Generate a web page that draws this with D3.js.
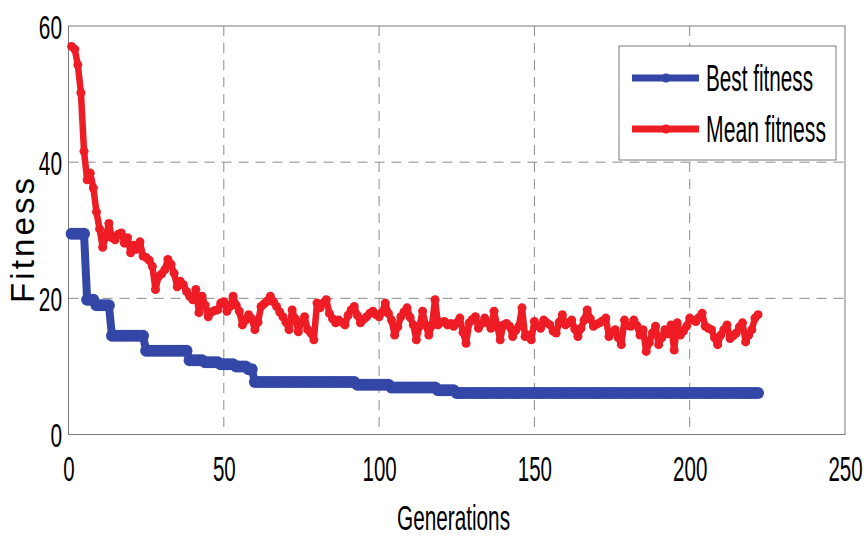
<!DOCTYPE html>
<html>
<head>
    <meta charset="utf-8">
    <script src="https://d3js.org/d3.v7.min.js"></script>
    <style>
        body { margin: 0; background: #fff; }
        text { font-family: "Liberation Sans Narrow", "Arial Narrow", "Liberation Sans", sans-serif; fill: #000; }
    </style>
</head>
<body>
    <div id="chart"></div>

    <script>
        // data: generation 1..222
        const bestFitness = [
            29.5, 29.5, 29.5, 29.5, 29.5,
            19.8, 19.8, 19.8,
            19.0, 19.0, 19.0, 19.0, 19.0,
            14.5, 14.5, 14.5, 14.5, 14.5, 14.5, 14.5, 14.5, 14.5, 14.5, 14.5,
            12.3, 12.3, 12.3, 12.3, 12.3, 12.3, 12.3, 12.3, 12.3, 12.3, 12.3, 12.3, 12.3, 12.3,
            10.9, 10.9, 10.9, 10.9, 10.9,
            10.6, 10.6, 10.6, 10.6, 10.6,
            10.3, 10.3, 10.3, 10.3, 10.3,
            10.0, 10.0, 10.0, 10.0,
            9.6, 9.6,
            7.7, 7.7, 7.7, 7.7, 7.7, 7.7, 7.7, 7.7, 7.7, 7.7, 7.7, 7.7, 7.7, 7.7, 7.7, 7.7, 7.7,
            7.7, 7.7, 7.7, 7.7, 7.7, 7.7, 7.7, 7.7, 7.7, 7.7, 7.7, 7.7, 7.7, 7.7, 7.7, 7.7,
            7.3, 7.3, 7.3, 7.3, 7.3, 7.3, 7.3, 7.3, 7.3, 7.3, 7.3,
            6.9, 6.9, 6.9, 6.9, 6.9, 6.9, 6.9, 6.9, 6.9, 6.9, 6.9, 6.9, 6.9, 6.9, 6.9,
            6.5, 6.5, 6.5, 6.5, 6.5, 6.5,
            6.1, 6.1, 6.1, 6.1, 6.1, 6.1, 6.1, 6.1, 6.1, 6.1, 6.1, 6.1, 6.1, 6.1, 6.1, 6.1, 6.1, 6.1, 6.1, 6.1,
            6.1, 6.1, 6.1, 6.1, 6.1, 6.1, 6.1, 6.1, 6.1, 6.1, 6.1, 6.1, 6.1, 6.1, 6.1, 6.1, 6.1, 6.1, 6.1, 6.1,
            6.1, 6.1, 6.1, 6.1, 6.1, 6.1, 6.1, 6.1, 6.1, 6.1, 6.1, 6.1, 6.1, 6.1, 6.1, 6.1, 6.1, 6.1, 6.1, 6.1,
            6.1, 6.1, 6.1, 6.1, 6.1, 6.1, 6.1, 6.1, 6.1, 6.1, 6.1, 6.1, 6.1, 6.1, 6.1, 6.1, 6.1, 6.1, 6.1, 6.1,
            6.1, 6.1, 6.1, 6.1, 6.1, 6.1, 6.1, 6.1, 6.1, 6.1, 6.1, 6.1, 6.1, 6.1, 6.1, 6.1, 6.1, 6.1
        ];

        const meanFitness = [
            57.0, 56.6, 54.3, 50.2, 41.6, 37.4, 38.4, 36.2, 32.7, 30.2,
            27.5, 29.0, 31.0, 28.9, 28.6, 29.4, 29.6, 28.1, 28.9, 26.7,
            27.8, 27.2, 28.3, 26.2, 26.0, 25.6, 24.7, 21.3, 23.2, 23.6,
            24.2, 25.7, 25.0, 23.7, 21.7, 22.5, 22.0, 21.0, 20.3, 19.8,
            21.3, 17.9, 20.3, 19.0, 17.3, 18.0, 18.2, 18.3, 19.3, 19.5,
            18.1, 18.8, 20.3, 19.0, 18.1, 16.1, 16.8, 17.6, 17.0, 15.4,
            16.5, 18.8, 19.2, 19.6, 20.3, 19.5, 18.8, 18.0, 17.3, 16.5,
            15.4, 18.3, 17.0, 15.1, 16.5, 17.3, 15.4, 14.9, 13.9, 19.3,
            18.6, 19.3, 19.8, 17.8, 17.0, 16.4, 16.8, 16.5, 16.1, 17.5,
            18.3, 18.8, 17.5, 16.4, 16.9, 17.3, 17.8, 18.1, 17.6, 17.3,
            18.0, 19.3, 17.8, 16.8, 14.6, 15.8, 17.3, 18.0, 18.6, 17.2,
            16.1, 13.9, 15.9, 18.1, 16.1, 14.6, 16.0, 19.8, 16.1, 16.5,
            16.6, 16.1, 16.3, 15.9, 16.4, 17.1, 15.0, 13.4, 16.4, 16.9,
            17.3, 15.6, 16.3, 17.1, 16.4, 15.6, 18.1, 16.0, 13.9, 16.1,
            16.3, 15.9, 14.4, 15.3, 15.9, 18.6, 14.4, 14.6, 13.9, 16.6,
            16.0, 15.6, 16.8, 16.4, 16.1, 15.2, 14.9, 16.5, 17.6, 16.1,
            16.4, 16.8, 15.5, 14.4, 15.6, 16.8, 18.3, 17.0, 15.9, 16.2,
            16.4, 16.7, 17.1, 14.4, 15.0, 15.4, 14.2, 13.2, 16.8, 16.0,
            15.9, 16.8, 16.0, 14.6, 15.4, 12.2, 13.5, 14.9, 15.9, 13.2,
            14.2, 15.4, 14.8, 16.1, 12.4, 16.4, 14.6, 15.2, 15.9, 17.1,
            16.8, 16.6, 17.2, 17.8, 15.9, 15.6, 15.4, 14.2, 13.2, 14.6,
            15.4, 16.1, 14.1, 14.5, 14.9, 15.8, 16.4, 13.6, 14.6, 15.4,
            17.1, 17.6
        ];

        const xTicks = [0, 50, 100, 150, 200, 250];
        const yTicks = [0, 20, 40, 60];
        const seriesNames = ["Best fitness", "Mean fitness"];
        const colors = ["#3447a6", "#ee1c25"];

        const width = 864;
        const height = 537;
        const plot = {left: 68.5, right: 845, top: 26, bottom: 434.5};

        const svg = d3.select("#chart")
            .append("svg")
            .attr("width", width)
            .attr("height", height);

        const x = d3.scaleLinear().domain([0, 250]).range([plot.left, plot.right]);
        const y = d3.scaleLinear().domain([0, 60]).range([plot.bottom, plot.top]);

        // grid
        svg.append("g")
            .selectAll("line")
            .data(xTicks.filter(d => d > 0 && d < 250))
            .join("line")
            .attr("x1", d => x(d)).attr("x2", d => x(d))
            .attr("y1", plot.top).attr("y2", plot.bottom)
            .attr("stroke", "#8a8a8a").attr("stroke-dasharray", "10,7");

        svg.append("g")
            .selectAll("line")
            .data(yTicks.filter(d => d > 0 && d < 60))
            .join("line")
            .attr("x1", plot.left).attr("x2", plot.right)
            .attr("y1", d => y(d)).attr("y2", d => y(d))
            .attr("stroke", "#8a8a8a").attr("stroke-dasharray", "10,7");

        // frame
        svg.append("rect")
            .attr("x", plot.left).attr("y", plot.top)
            .attr("width", plot.right - plot.left)
            .attr("height", plot.bottom - plot.top)
            .attr("fill", "none").attr("stroke", "#7a7a7a");

        // axes (labels only)
        const xAxis = svg.append("g")
            .attr("transform", `translate(0, ${plot.bottom})`)
            .call(d3.axisBottom(x).tickValues(xTicks).tickSize(0).tickFormat(d3.format("d")));
        xAxis.select(".domain").remove();
        xAxis.selectAll("text")
            .attr("y", 46).attr("dy", 0)
            .attr("font-size", 35)
            .attr("textLength", d => String(d).length * 11.4)
            .attr("lengthAdjust", "spacingAndGlyphs");

        const yAxis = svg.append("g")
            .attr("transform", `translate(${plot.left}, 0)`)
            .call(d3.axisLeft(y).tickValues(yTicks).tickSize(0).tickFormat(d3.format("d")));
        yAxis.select(".domain").remove();
        yAxis.selectAll("text")
            .attr("x", -6.5).attr("dy", "0.36em")
            .attr("font-size", 34)
            .attr("textLength", d => String(d).length * 11.6)
            .attr("lengthAdjust", "spacingAndGlyphs");

        // axis titles
        svg.append("text")
            .attr("x", 453.5).attr("y", 530)
            .attr("text-anchor", "middle")
            .attr("font-size", 35)
            .attr("textLength", 113)
            .attr("lengthAdjust", "spacingAndGlyphs")
            .text("Generations");

        svg.append("text")
            .attr("transform", "translate(34, 303) rotate(-90)")
            .attr("font-size", 33)
            .attr("textLength", 125)
            .attr("lengthAdjust", "spacing")
            .text("Fitness");

        // series
        const series = [bestFitness, meanFitness];
        const line = d3.line()
            .x((d, i) => x(i + 1))
            .y(d => y(d));

        series.forEach((vals, k) => {
            const g = svg.append("g");
            g.append("path")
                .datum(vals)
                .attr("d", line)
                .attr("fill", "none")
                .attr("stroke", colors[k])
                .attr("stroke-width", k === 0 ? 8 : 6.5)
                .attr("stroke-linejoin", "round");
            g.selectAll("circle")
                .data(vals)
                .join("circle")
                .attr("cx", (d, i) => x(i + 1))
                .attr("cy", d => y(d))
                .attr("r", k === 0 ? 6 : 4.5)
                .attr("fill", colors[k]);
        });

        // legend
        const legend = svg.append("g");
        legend.append("rect")
            .attr("x", 619).attr("y", 46)
            .attr("width", 217).attr("height", 114)
            .attr("fill", "#fff").attr("stroke", "#7a7a7a");

        const legendY = [78, 129];
        const legendW = [107, 120];
        seriesNames.forEach((name, k) => {
            legend.append("line")
                .attr("x1", 632).attr("x2", 699)
                .attr("y1", legendY[k]).attr("y2", legendY[k])
                .attr("stroke", colors[k]).attr("stroke-width", 7);
            legend.append("circle")
                .attr("cx", 666).attr("cy", legendY[k])
                .attr("r", 4.5).attr("fill", colors[k]);
            legend.append("text")
                .attr("x", 706).attr("y", legendY[k] + 13)
                .attr("font-size", 36)
                .attr("textLength", legendW[k])
                .attr("lengthAdjust", "spacingAndGlyphs")
                .text(name);
        });
    </script>
</body>
</html>
